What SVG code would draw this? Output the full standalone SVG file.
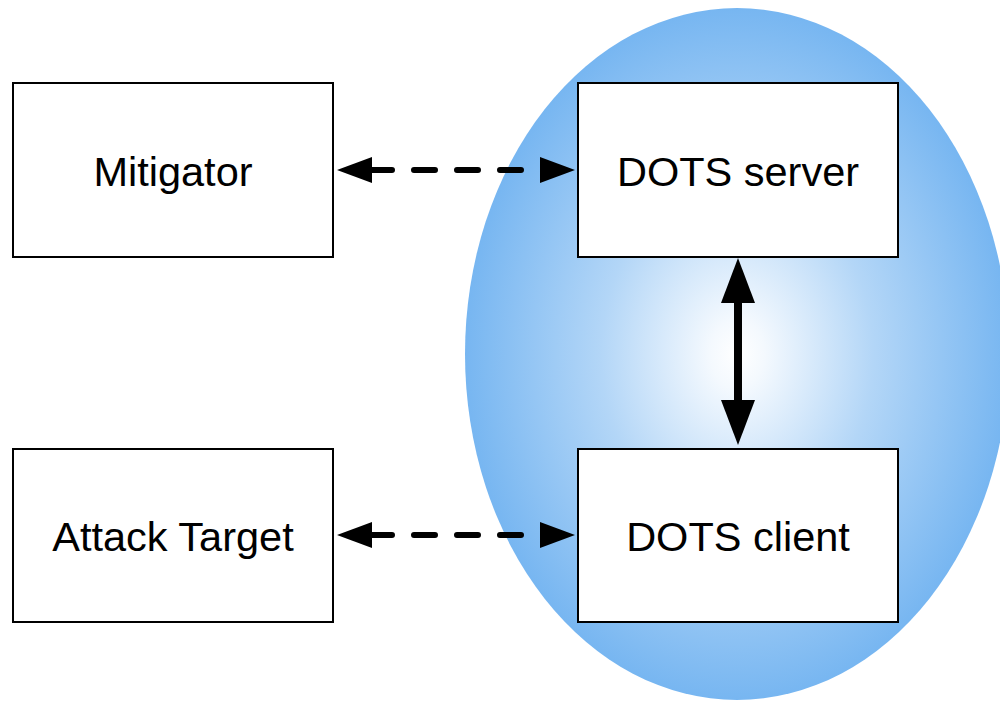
<svg xmlns="http://www.w3.org/2000/svg" width="1000" height="701" viewBox="0 0 1000 701">
<defs>
<radialGradient id="bg" cx="0.5" cy="0.5" r="0.5">
<stop offset="0" stop-color="#ffffff"/>
<stop offset="0.1" stop-color="#f4f9fe"/>
<stop offset="0.5" stop-color="#b3d6f7"/>
<stop offset="1" stop-color="#77b6f1"/>
</radialGradient>
<style>
.box{fill:#fff;stroke:#000;stroke-width:2}
.lbl{font-family:"Liberation Sans",Arial,sans-serif;font-size:41.5px;fill:#000;text-anchor:middle}
.dash{stroke:#000;stroke-width:6;stroke-linecap:round;stroke-dasharray:21 22;fill:none}
.head{fill:#000}
</style>
</defs>
<ellipse cx="737" cy="354" rx="272" ry="346" fill="url(#bg)"/>
<g id="mitigator"><rect class="box" x="13" y="83" width="320" height="174"/><text class="lbl" x="173" y="186">Mitigator</text></g>
<g id="dots-server"><rect class="box" x="578" y="83" width="320" height="174"/><text class="lbl" x="738" y="186">DOTS server</text></g>
<g id="attack-target"><rect class="box" x="13" y="449" width="320" height="173"/><text class="lbl" x="173" y="551">Attack Target</text></g>
<g id="dots-client"><rect class="box" x="578" y="449" width="320" height="173"/><text class="lbl" x="738" y="551">DOTS client</text></g>
<g id="connectors">
<line class="dash" x1="371" y1="170" x2="542" y2="170"/>
<polygon class="head" points="337,170 372,157 372,183"/>
<polygon class="head" points="575,170 540,157 540,183"/>
<line class="dash" x1="371" y1="535" x2="542" y2="535"/>
<polygon class="head" points="337,535 372,522 372,548"/>
<polygon class="head" points="575,535 540,522 540,548"/>
<line x1="738" y1="300" x2="738" y2="403" stroke="#000" stroke-width="8"/>
<polygon class="head" points="738,258 755,303 721,303"/>
<polygon class="head" points="738,445 755,400 721,400"/>
</g>
</svg>
